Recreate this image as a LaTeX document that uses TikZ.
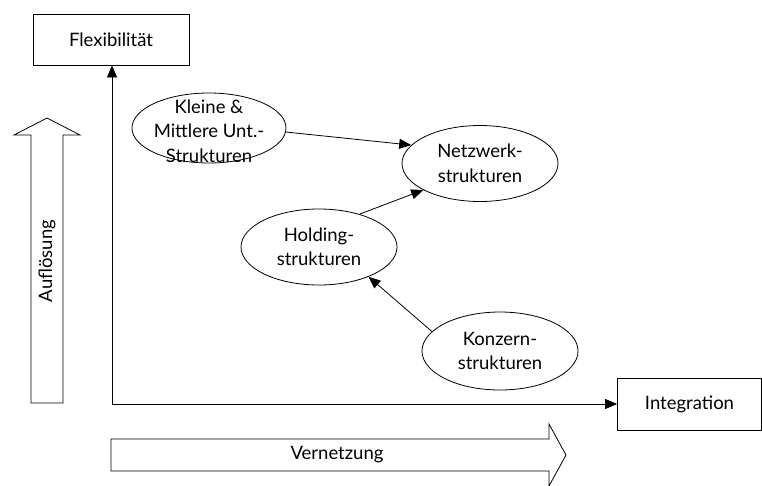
\documentclass[tikz,border=0pt]{standalone}
\usepackage{fontspec}
\setmainfont{Lato}
\usepackage{tikz}
\usetikzlibrary{arrows.meta,shapes.geometric}

\begin{document}
\begin{tikzpicture}[x=1pt,y=-1pt,line width=0.8pt,
		kasten/.style={draw,rectangle,inner sep=0pt},
		oval/.style={draw,ellipse,inner sep=0pt,minimum width=156pt,minimum height=76pt},
		pfeil/.style={-{Triangle[length=12pt,width=10pt]}},
		schrift/.style={align=center,font=\fontsize{18.5}{24.5}\selectfont}]
					\useasboundingbox (0,0) rectangle (762,485);
					%Kaesten
					\node[kasten,minimum width=156pt,minimum height=51pt] (flex) at (111,39.5) {};
					\node[kasten,minimum width=144pt,minimum height=52pt] (integ) at (689.5,404) {};
					\coordinate (ursprung) at (112,404);
					%Ellipsen
					\node[oval,minimum width=154pt,minimum height=70pt] (kmu) at (209,128) {};
					\node[oval] (netz) at (480,163.5) {};
					\node[oval] (hold) at (319,247) {};
					\node[oval,minimum height=78pt] (konz) at (500,351) {};
					%Blockpfeile
					\draw (31,403) -- (31,135) -- (14,135) -- (47,118) -- (80,135) -- (63,135) -- (63,403) -- cycle;
					\draw (111,439) -- (549,439) -- (549,424) -- (566,455) -- (549,486) -- (549,471) -- (111,471) -- cycle;
					%Beschriftung
					\node[schrift] (flextext) at (flex) {Flexibilität};
					\node[schrift] (integtext) at (integ) {Integration};
					\node[schrift] (kmutext) at (209,131) {Kleine \&\\Mittlere Unt.-\\Strukturen};
					\node[schrift] (netztext) at (netz) {Netzwerk-\\strukturen};
					\node[schrift] (holdtext) at (hold) {Holding-\\strukturen};
					\node[schrift] (konztext) at (konz) {Konzern-\\strukturen};
					\node[schrift,rotate=90] (aufltext) at (47,261) {Auflösung};
					\node[schrift] (vernetztext) at (337,455) {Vernetzung};
					%Linien
					\draw[pfeil] (ursprung) -- (ursprung |- flex.south);
					\draw[pfeil] (ursprung) -- (integ.west);
					\draw[pfeil] (kmu.-3) -- (netz.165);
					\draw[pfeil] (hold.39) -- (netz.205);
					\draw[pfeil] (konz.164) -- (hold.-31);
				\end{tikzpicture}
\end{document}
